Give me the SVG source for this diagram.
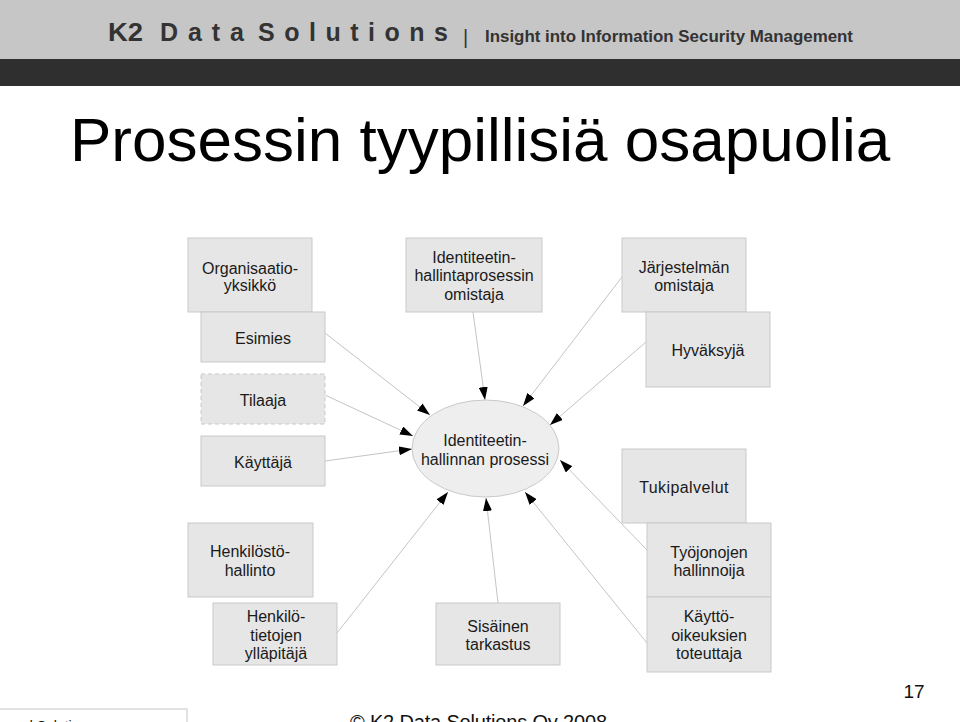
<svg xmlns="http://www.w3.org/2000/svg" width="960" height="722" viewBox="0 0 960 722">
<defs>
<style>
.box{fill:#e6e6e6;stroke:#c9c9c9;stroke-width:1}
.dash{stroke-dasharray:4,3}
.t{font-family:"Liberation Sans",Arial,sans-serif;font-size:16px;fill:#1a1a1a;text-anchor:middle}
.c{stroke:#c4c4c4;stroke-width:1;fill:none;marker-end:url(#ah)}
</style>
<marker id="ah" markerUnits="userSpaceOnUse" markerWidth="13" markerHeight="9" refX="13" refY="4.5" orient="auto">
<path d="M0,0 L13,4.5 L0,9 z" fill="#000"/>
</marker>
</defs>
<rect x="0" y="0" width="960" height="722" fill="#fff"/>
<g id="header">
<rect x="0" y="0" width="960" height="59" fill="#c6c6c6"/>
<rect x="0" y="59" width="960" height="27" fill="#2f2f2f"/>
<g font-family="'Liberation Sans',Arial,sans-serif" font-weight="bold" fill="#333">
<text x="108" y="41" font-size="25" textLength="35" lengthAdjust="spacingAndGlyphs">K2</text>
<text x="160" y="41" font-size="25" textLength="84" lengthAdjust="spacing">Data</text>
<text x="258" y="41" font-size="25" textLength="190" lengthAdjust="spacing">Solutions</text>
<text x="463" y="44" font-size="20" font-weight="normal">|</text>
<text x="485" y="42" font-size="17" textLength="368" lengthAdjust="spacingAndGlyphs">Insight into Information Security Management</text>
</g>
</g>
<text id="title" x="70" y="161" font-family="'Liberation Sans',Arial,sans-serif" font-size="62" fill="#000">Prosessin tyypillisiä osapuolia</text>
<g id="connectors">
<line class="c" x1="325" y1="333" x2="430" y2="415"/>
<line class="c" x1="325" y1="395" x2="413" y2="436"/>
<line class="c" x1="325" y1="461" x2="412" y2="449"/>
<line class="c" x1="473" y1="312" x2="485" y2="400"/>
<line class="c" x1="622" y1="277" x2="523" y2="406"/>
<line class="c" x1="646" y1="342" x2="550" y2="425"/>
<line class="c" x1="647" y1="550" x2="560" y2="460"/>
<line class="c" x1="647" y1="643" x2="525" y2="492"/>
<line class="c" x1="498" y1="603" x2="486" y2="498"/>
<line class="c" x1="337" y1="633" x2="448" y2="492"/>
</g>
<g id="n-organisaatio"><rect class="box" x="188" y="238" width="124" height="74"/><text class="t" x="250" y="274">Organisaatio-</text><text class="t" x="250" y="291">yksikkö</text></g>
<g id="n-esimies"><rect class="box" x="201" y="312" width="124" height="50"/><text class="t" x="263" y="344">Esimies</text></g>
<g id="n-tilaaja"><rect class="box dash" x="201" y="374" width="124" height="50"/><text class="t" x="263" y="406">Tilaaja</text></g>
<g id="n-kayttaja"><rect class="box" x="201" y="436" width="124" height="50"/><text class="t" x="263" y="468">Käyttäjä</text></g>
<g id="n-omistaja"><rect class="box" x="406" y="238" width="136" height="74"/><text class="t" x="474" y="263">Identiteetin-</text><text class="t" x="474" y="281">hallintaprosessin</text><text class="t" x="474" y="300">omistaja</text></g>
<g id="n-prosessi"><ellipse cx="485.5" cy="448.5" rx="73.5" ry="48.5" fill="#eeeeee" stroke="#c9c9c9"/><text class="t" x="485" y="446">Identiteetin-</text><text class="t" x="485" y="465">hallinnan prosessi</text></g>
<g id="n-jarjestelma"><rect class="box" x="622" y="238" width="124" height="74"/><text class="t" x="684" y="273">Järjestelmän</text><text class="t" x="684" y="291">omistaja</text></g>
<g id="n-hyvaksyja"><rect class="box" x="646" y="312" width="124" height="75"/><text class="t" x="708" y="356">Hyväksyjä</text></g>
<g id="n-tukipalvelut"><rect class="box" x="622" y="449" width="124" height="74"/><text class="t" x="684" y="493" letter-spacing="0.4">Tukipalvelut</text></g>
<g id="n-tyojonot"><rect class="box" x="647" y="523" width="124" height="74"/><text class="t" x="709" y="558">Työjonojen</text><text class="t" x="709" y="576">hallinnoija</text></g>
<g id="n-kayttooikeudet"><rect class="box" x="647" y="597" width="124" height="75"/><text class="t" x="709" y="622">Käyttö-</text><text class="t" x="709" y="641">oikeuksien</text><text class="t" x="709" y="659">toteuttaja</text></g>
<g id="n-henkilosto"><rect class="box" x="188" y="523" width="125" height="74"/><text class="t" x="250" y="557">Henkilöstö-</text><text class="t" x="250" y="576">hallinto</text></g>
<g id="n-henkilotiedot"><rect class="box" x="213" y="603" width="124" height="62"/><text class="t" x="276" y="622">Henkilö-</text><text class="t" x="276" y="641">tietojen</text><text class="t" x="276" y="659">ylläpitäjä</text></g>
<g id="n-sisainen"><rect class="box" x="436" y="603" width="124" height="62"/><text class="t" x="498" y="632">Sisäinen</text><text class="t" x="498" y="650">tarkastus</text></g>
<g id="footer" font-family="'Liberation Sans',Arial,sans-serif" fill="#111">
<text x="914" y="698" font-size="19" text-anchor="middle">17</text>
<rect x="-1" y="709" width="188" height="20" fill="#fff" stroke="#c4c4c4"/>
<text x="25" y="731" font-size="14">d Solutions</text>
<text x="350" y="729" font-size="20" textLength="257">© K2 Data Solutions Oy 2008</text>
</g>
</svg>
